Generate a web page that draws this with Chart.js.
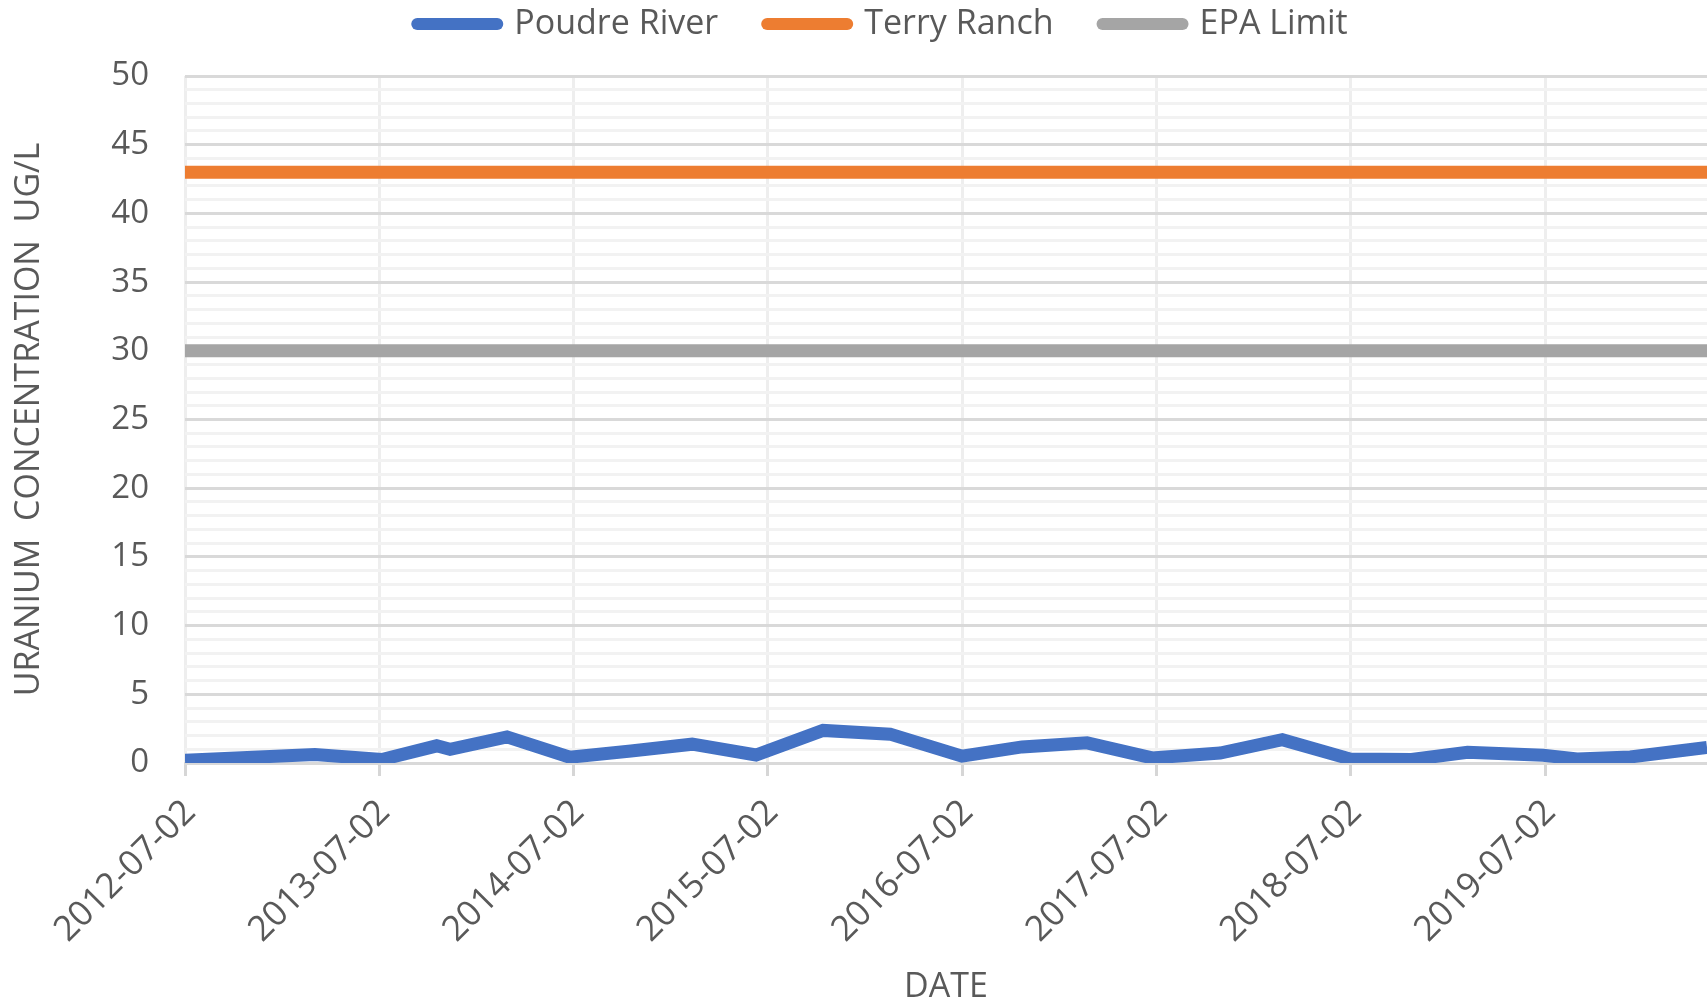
<!DOCTYPE html>
<html><head><meta charset="utf-8">
<script src="https://cdn.jsdelivr.net/npm/chart.js@4.4.1/dist/chart.umd.min.js"></script>
<style>html,body{margin:0;padding:0;background:#fff;overflow:hidden}canvas{display:block}</style>
</head><body>
<canvas id="c" width="1707" height="1001"></canvas>
<script>
// ---- data ----
const seriesNames = ['Poudre River', 'Terry Ranch', 'EPA Limit'];
const poudreDates = ['2012-07-02','2013-03-03','2013-07-07','2013-10-18','2013-11-12','2014-02-27','2014-06-25','2014-10-18','2015-02-10','2015-06-10','2015-10-14','2016-02-17','2016-07-01','2016-10-22','2017-02-21','2017-06-23','2017-10-29','2018-02-23','2018-06-30','2018-10-24','2019-02-06','2019-06-28','2019-08-31','2019-12-09','2020-05-01'];
const poudreValues = [0.2,0.62,0.25,1.25,1.0,1.9,0.42,0.87,1.37,0.58,2.37,2.1,0.5,1.17,1.47,0.37,0.72,1.7,0.3,0.25,0.78,0.56,0.3,0.44,1.14];
const limitDates = ['2012-07-02','2020-05-01'];
const terryRanchValues = [43, 43];
const epaLimitValues = [30, 30];
const xTickLabels = ['2012-07-02','2013-07-02','2014-07-02','2015-07-02','2016-07-02','2017-07-02','2018-07-02','2019-07-02'];
const yTickLabels = ['0','5','10','15','20','25','30','35','40','45','50'];
const xRange = ['2012-07-02','2020-05-01'];
const yRange = [0, 50];
const xTitle = 'DATE';
const yTitle = 'URANIUM  CONCENTRATION  UG/L';

// ---- build ----
const pts = (dates, vals) => dates.map((d, i) => ({ x: Date.parse(d), y: vals[i] }));
const FONT = "'Open Sans', 'DejaVu Sans', sans-serif";
const TXT = '#595959';

const legendPlacement = {
  id: 'legendPlacement',
  beforeLayout(chart) {
    const lg = chart.legend;
    if (lg && !lg.__patched) {
      const origFit = lg.fit;
      lg.fit = function () { origFit.call(this); this.height = 76; };
      lg.__patched = true;
    }
  },
  afterLayout(chart) {
    const lg = chart.legend;
    if (!lg) return;
    lg.top = -42; lg.bottom = 76;
    lg.left += 29; lg.right += 29;
  }
};

new Chart(document.getElementById('c'), {
  type: 'line',
  data: {
    datasets: [
      { label: seriesNames[0], data: pts(poudreDates, poudreValues), borderColor: '#4472C4', backgroundColor: '#4472C4', borderWidth: 13, pointRadius: 0, tension: 0, fill: false },
      { label: seriesNames[1], data: pts(limitDates, terryRanchValues), borderColor: '#ED7D31', backgroundColor: '#ED7D31', borderWidth: 13, pointRadius: 0, tension: 0, fill: false },
      { label: seriesNames[2], data: pts(limitDates, epaLimitValues), borderColor: '#A5A5A5', backgroundColor: '#A5A5A5', borderWidth: 13, pointRadius: 0, tension: 0, fill: false }
    ]
  },
  options: {
    responsive: false,
    animation: false,
    devicePixelRatio: 1,
    layout: { padding: 0 },
    plugins: {
      tooltip: { enabled: false },
      legend: {
        position: 'top',
        labels: {
          usePointStyle: true,
          pointStyleWidth: 80,
          padding: 49,
          color: TXT,
          font: { family: FONT, size: 34 },
          generateLabels(chart) {
            const items = Chart.defaults.plugins.legend.labels.generateLabels(chart);
            items.forEach(it => { it.pointStyle = 'line'; it.lineCap = 'round'; it.lineWidth = 12; });
            return items;
          }
        }
      }
    },
    scales: {
      x: {
        type: 'linear',
        min: Date.parse(xRange[0]),
        max: Date.parse(xRange[1]),
        afterBuildTicks(scale) { scale.ticks = xTickLabels.map(d => ({ value: Date.parse(d) })); },
        afterFit(scale) { scale.height = 238; },
        ticks: {
          autoSkip: false,
          maxRotation: 45, minRotation: 45,
          padding: 16,
          labelOffset: 5,
          color: TXT,
          font: { family: FONT, size: 35 },
          callback(v) { return new Date(v).toISOString().slice(0, 10); }
        },
        grid: { color: '#eeeeee', lineWidth: 3, tickLength: 13, tickColor: '#d6d6d6', tickWidth: 3 },
        border: { display: true, color: '#d9d9d9', width: 3 },
        title: { display: true, text: xTitle, color: TXT, font: { family: FONT, size: 34, lineHeight: 0.8 }, padding: { top: 0, bottom: 0 } }
      },
      y: {
        min: yRange[0], max: yRange[1],
        afterFit(scale) { scale.width = 185; },
        ticks: {
          stepSize: 1, autoSkip: false, padding: 36,
          color: TXT,
          font: { family: FONT, size: 33 },
          callback(v) { const s = String(v); return yTickLabels.includes(s) ? s : ''; }
        },
        grid: {
          drawTicks: false,
          lineWidth: 3,
          color(ctx) { return ctx.tick && ctx.tick.value % 5 === 0 ? '#d9d9d9' : '#f2f2f2'; }
        },
        border: { display: false },
        title: { display: true, text: yTitle, color: TXT, font: { family: FONT, size: 34, lineHeight: 1 }, padding: { top: 12, bottom: 0 } }
      }
    }
  },
  plugins: [legendPlacement]
});
</script>
</body></html>
